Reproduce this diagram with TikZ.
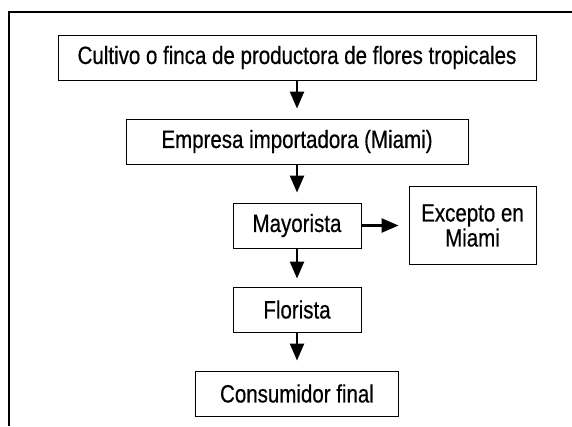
\documentclass[tikz,border=0pt]{standalone}
\usepackage{fontspec}
\setmainfont{Liberation Sans}[FakeStretch=0.82,FakeBold=0.5]
\usetikzlibrary{arrows.meta}
\begin{document}
\begin{tikzpicture}[x=1pt,y=1pt,->,>={Triangle[width=14pt,length=17pt]},
	nodes={draw, line width=0.9pt, inner sep=0pt, minimum height=45pt, font=\fontsize{25}{25}\selectfont},
	node distance=84pt]
		\useasboundingbox (0,0) rectangle (572,-426);
		\draw[-, line width=1.1pt] (9,-426) -- (9,-12) -- (572,-12);
		\node (a1) at (297,-57.5) [minimum width=478pt] {Cultivo o finca de productora de flores tropicales};
		\node (a2) [below of = a1, minimum width=342pt] {Empresa importadora (Miami)};
		\node (a3) [below of = a2, minimum width=128pt] {Mayorista};
		\node (a4) [right of = a3, xshift=91.5pt, minimum width=127pt, minimum height=78pt, align=center] {Excepto en\\Miami};
		\node (a5) [below of = a3, minimum width=128pt] {Florista};
		\node (a6) [below of = a5, minimum width=203pt] {Consumidor final};
		\draw[line width=2.4pt, shorten >=10pt] (a1) -- (a2);
		\draw[line width=2.4pt, shorten >=10pt] (a2) -- (a3);
		\draw[line width=2.4pt, shorten >=10pt] (a3) -- (a4);
		\draw[line width=2.4pt, shorten >=8pt] (a3) -- (a5);
		\draw[line width=2.4pt, shorten >=10pt] (a5) -- (a6);
		\end{tikzpicture}
\end{document}
